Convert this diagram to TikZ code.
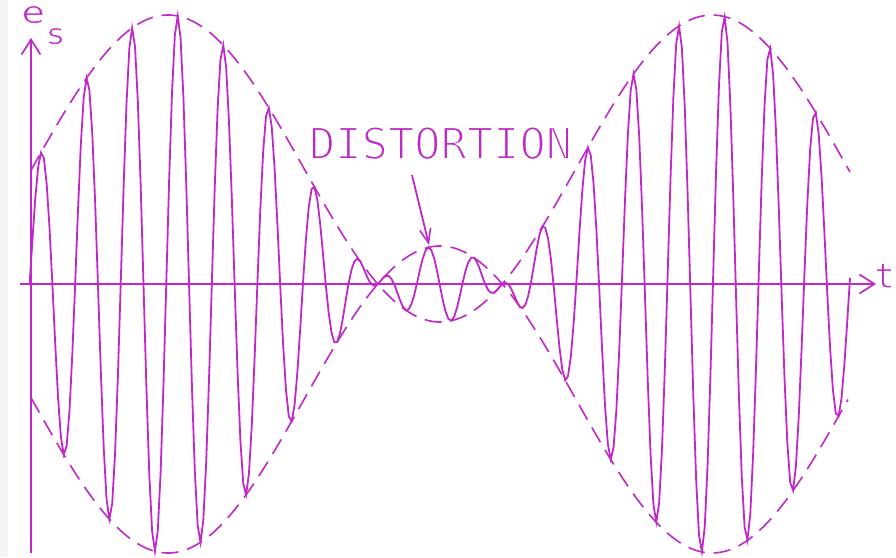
\documentclass[tikz,border=0pt]{standalone}
\usepackage{fontspec}
\usepackage{graphicx}
\newfontfamily\plotfont{DejaVu Sans Mono}
\usetikzlibrary{arrows.meta}
\definecolor{plotmag}{RGB}{192,40,200}
% thin the glyphs: fill in colour, stroke the outline in white
\newcommand\thinglyphs[2]{\special{pdf:literal direct 2 Tr 1 1 1 RG #1 w}#2\special{pdf:literal direct 0 Tr 0.753 0.157 0.784 RG}}
\begin{document}
\begin{tikzpicture}[x=1pt,y=-1pt,
  sig/.style={plotmag, line width=1.8pt},
  env/.style={plotmag, line width=1.6pt, dash pattern=on 17pt off 9pt},
  axisline/.style={plotmag, line width=1.9pt},
  barb/.style={-{Straight Barb[length=15pt,width=19pt,line width=1.7pt]}},
  lbl/.style={text=plotmag, inner sep=0pt, outer sep=0pt, font=\plotfont}]
\useasboundingbox (0,0) rectangle (896,557);
\fill[black!4] (0,0) rectangle (8,557);
% axes
\coordinate (yb) at (31,553);
\coordinate (yt) at (31,38);
\coordinate (xl) at (20,284);
\coordinate (xr) at (876,284);
\draw[axisline, barb] (yb) -- (yt);
\draw[axisline, barb] (xl) -- (xr);
% envelope
\draw[env] plot[domain=31:850, samples=300, smooth] (\x, {284 - (115.5+153.5*cos((\x-168)/544*360))});
\draw[env] plot[domain=31:848, samples=300, smooth] (\x, {284 + (115.5+153.5*cos((\x-168)/544*360))});
% signal
\draw[sig, line join=miter] plot[domain=29.6:850, samples=289] (\x, {284 - (115.5+153.5*cos((\x-168)/544*360))*sin((\x-29.6)/45.5556*360)});
% labels
\node[lbl, anchor=base west] (es) at (21,23) {\fontsize{31}{31}\selectfont\thinglyphs{0.8}{\scalebox{1.3}[1]{e}}};
\node[lbl, anchor=base west] (ss) at (45,44) {\fontsize{29}{29}\selectfont\thinglyphs{0.8}{\scalebox{1.2}[1]{s}}};
\node[lbl, anchor=base west] (tl) at (874,288) {\fontsize{35}{35}\selectfont\thinglyphs{1.1}{t}};
\node[lbl, anchor=base west] (dist) at (309,159) {\fontsize{43.7}{43.7}\selectfont\thinglyphs{1.8}{DISTORTION}};
\coordinate (dfrom) at (412,175);
\coordinate (dto) at (429,245);
\draw[sig, -{Straight Barb[length=14pt,width=11pt,line width=1.6pt]}] (dfrom) -- (dto);
\end{tikzpicture}
\end{document}
